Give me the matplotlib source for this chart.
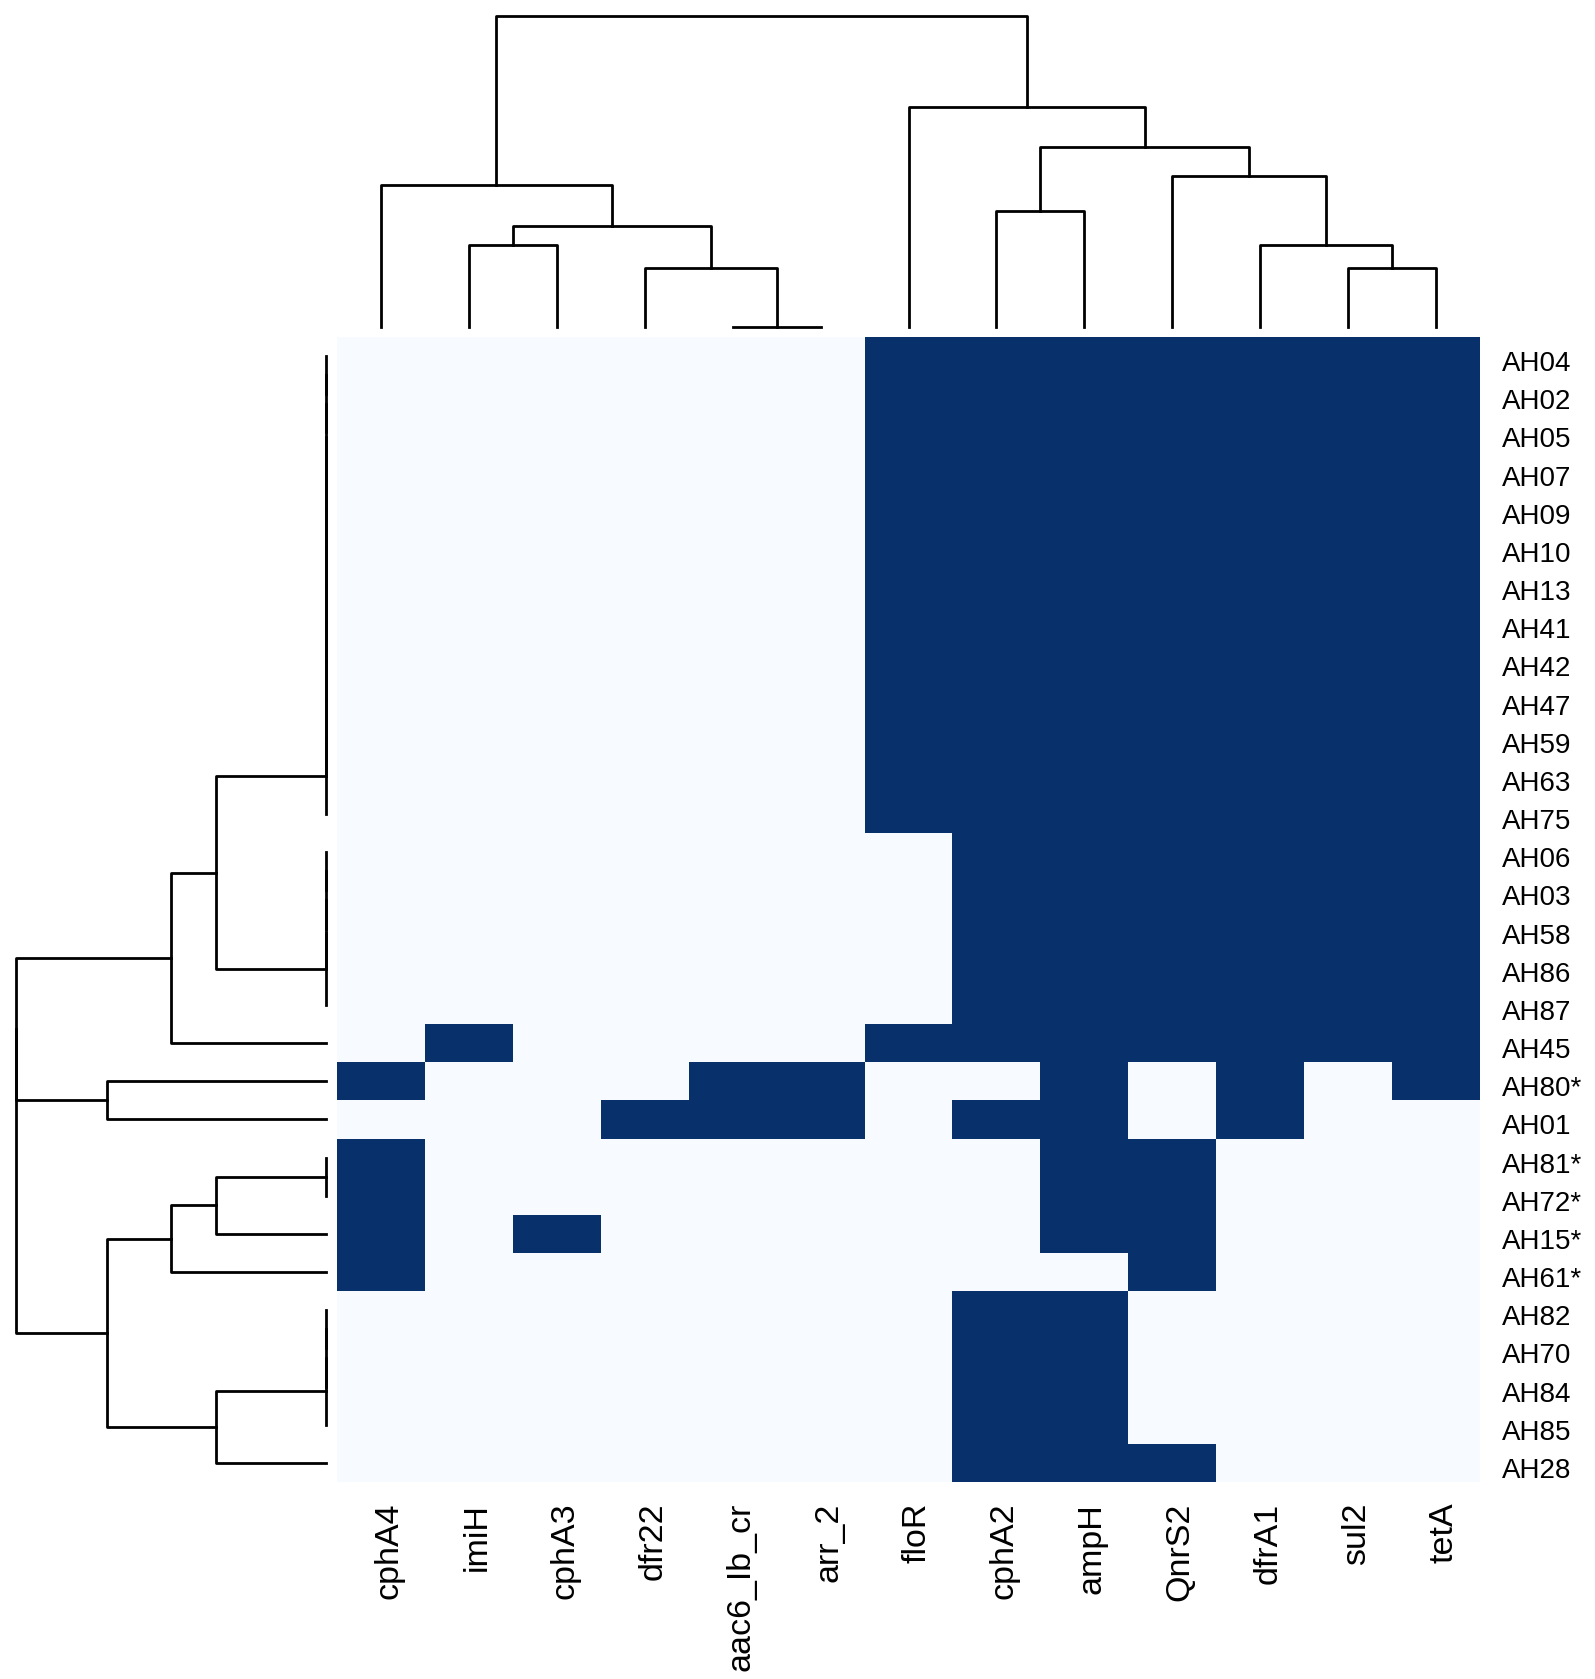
import numpy as np
import matplotlib.pyplot as plt
from matplotlib.transforms import ScaledTranslation

plt.rcParams['font.family'] = ['Liberation Sans', 'DejaVu Sans']

# genes (columns) in dendrogram order
genes = ["cphA4", "imiH", "cphA3", "dfr22", "aac6_Ib_cr", "arr_2", "floR",
         "cphA2", "ampH", "QnrS2", "dfrA1", "sul2", "tetA"]

# isolates (rows) in dendrogram order
isolates = ["AH04", "AH02", "AH05", "AH07", "AH09", "AH10", "AH13", "AH41",
            "AH42", "AH47", "AH59", "AH63", "AH75", "AH06", "AH03", "AH58",
            "AH86", "AH87", "AH45", "AH80*", "AH01", "AH81*", "AH72*",
            "AH15*", "AH61*", "AH82", "AH70", "AH84", "AH85", "AH28"]

# presence (1) / absence (0) of each gene
presence = np.array([
    [0, 0, 0, 0, 0, 0, 1, 1, 1, 1, 1, 1, 1],  # AH04
    [0, 0, 0, 0, 0, 0, 1, 1, 1, 1, 1, 1, 1],  # AH02
    [0, 0, 0, 0, 0, 0, 1, 1, 1, 1, 1, 1, 1],  # AH05
    [0, 0, 0, 0, 0, 0, 1, 1, 1, 1, 1, 1, 1],  # AH07
    [0, 0, 0, 0, 0, 0, 1, 1, 1, 1, 1, 1, 1],  # AH09
    [0, 0, 0, 0, 0, 0, 1, 1, 1, 1, 1, 1, 1],  # AH10
    [0, 0, 0, 0, 0, 0, 1, 1, 1, 1, 1, 1, 1],  # AH13
    [0, 0, 0, 0, 0, 0, 1, 1, 1, 1, 1, 1, 1],  # AH41
    [0, 0, 0, 0, 0, 0, 1, 1, 1, 1, 1, 1, 1],  # AH42
    [0, 0, 0, 0, 0, 0, 1, 1, 1, 1, 1, 1, 1],  # AH47
    [0, 0, 0, 0, 0, 0, 1, 1, 1, 1, 1, 1, 1],  # AH59
    [0, 0, 0, 0, 0, 0, 1, 1, 1, 1, 1, 1, 1],  # AH63
    [0, 0, 0, 0, 0, 0, 1, 1, 1, 1, 1, 1, 1],  # AH75
    [0, 0, 0, 0, 0, 0, 0, 1, 1, 1, 1, 1, 1],  # AH06
    [0, 0, 0, 0, 0, 0, 0, 1, 1, 1, 1, 1, 1],  # AH03
    [0, 0, 0, 0, 0, 0, 0, 1, 1, 1, 1, 1, 1],  # AH58
    [0, 0, 0, 0, 0, 0, 0, 1, 1, 1, 1, 1, 1],  # AH86
    [0, 0, 0, 0, 0, 0, 0, 1, 1, 1, 1, 1, 1],  # AH87
    [0, 1, 0, 0, 0, 0, 1, 1, 1, 1, 1, 1, 1],  # AH45
    [1, 0, 0, 0, 1, 1, 0, 0, 1, 0, 1, 0, 1],  # AH80*
    [0, 0, 0, 1, 1, 1, 0, 1, 1, 0, 1, 0, 0],  # AH01
    [1, 0, 0, 0, 0, 0, 0, 0, 1, 1, 0, 0, 0],  # AH81*
    [1, 0, 0, 0, 0, 0, 0, 0, 1, 1, 0, 0, 0],  # AH72*
    [1, 0, 1, 0, 0, 0, 0, 0, 1, 1, 0, 0, 0],  # AH15*
    [1, 0, 0, 0, 0, 0, 0, 0, 0, 1, 0, 0, 0],  # AH61*
    [0, 0, 0, 0, 0, 0, 0, 1, 1, 0, 0, 0, 0],  # AH82
    [0, 0, 0, 0, 0, 0, 0, 1, 1, 0, 0, 0, 0],  # AH70
    [0, 0, 0, 0, 0, 0, 0, 1, 1, 0, 0, 0, 0],  # AH84
    [0, 0, 0, 0, 0, 0, 0, 1, 1, 0, 0, 0, 0],  # AH85
    [0, 0, 0, 0, 0, 0, 0, 1, 1, 1, 0, 0, 0],  # AH28
])


def chain(lo, hi):
    # identical rows merged one after the other at height 0
    node = lo
    for leaf in range(lo + 1, hi + 1):
        node = (0, node, leaf)
    return node


# trees as (height, left, right), leaves are indices
col_tree = (311, (142, 0, (101, (82, 1, 2), (59, 3, (0, 4, 5)))),
            (220, 6, (180, (116, 7, 8), (151, 9, (82, 10, (59, 11, 12))))))

row_tree = (310,
            (310, (155, (110, chain(0, 12), chain(13, 17)), 18), (219, 19, 20)),
            (219, (155, (110, chain(21, 22), 23), 24), (110, chain(25, 28), 29)))


def draw_tree(ax, node, side):
    if isinstance(node, int):
        return node + 0.5, 0
    h, left, right = node
    pl, hl = draw_tree(ax, left, side)
    pr, hr = draw_tree(ax, right, side)
    pos = [pl, pl, pr, pr]
    hts = [hl, h, h, hr]
    if side == "top":
        ax.plot(pos, hts, color="black", lw=2, clip_on=False)
    else:
        ax.plot(hts, pos, color="black", lw=2, clip_on=False)
    return (pl + pr) / 2, h


W, H = 1595, 1679
fig = plt.figure(figsize=(W / 100, H / 100), dpi=100)

hx0, hx1, hy0, hy1 = 337, 1480, 337, 1482
ax_heat = fig.add_axes([hx0 / W, 1 - hy1 / H, (hx1 - hx0) / W, (hy1 - hy0) / H])
ax_heat.pcolormesh(presence, cmap="Blues", vmin=0, vmax=1)
ax_heat.set_xlim(0, len(genes))
ax_heat.set_ylim(len(isolates), 0)
for s in ax_heat.spines.values():
    s.set_visible(False)
ax_heat.set_xticks(np.arange(len(genes)) + 0.5)
ax_heat.set_xticklabels(genes, rotation=90, fontsize=24.5)
ax_heat.yaxis.tick_right()
ax_heat.set_yticks(np.arange(len(isolates)) + 0.5)
ax_heat.set_yticklabels(isolates, fontsize=20)
ax_heat.tick_params(axis="x", length=0, pad=15)
ax_heat.tick_params(axis="y", length=0, pad=15.5)
# nudge the labels a little, as R places them
shift_x = ScaledTranslation(8 / 100, 0, fig.dpi_scale_trans)
for lab in ax_heat.get_xticklabels():
    lab.set_transform(lab.get_transform() + shift_x)
shift_y = ScaledTranslation(0, -5 / 100, fig.dpi_scale_trans)
for lab in ax_heat.get_yticklabels():
    lab.set_transform(lab.get_transform() + shift_y)

# column dendrogram
ax_top = fig.add_axes([hx0 / W, 1 - 326.5 / H, (hx1 - hx0) / W, (326.5 - 15.7) / H])
draw_tree(ax_top, col_tree, "top")
ax_top.set_xlim(0, len(genes))
ax_top.set_ylim(0, 311)
ax_top.axis("off")

# row dendrogram
ax_left = fig.add_axes([16 / W, 1 - hy1 / H, (326 - 16) / W, (hy1 - hy0) / H])
draw_tree(ax_left, row_tree, "left")
ax_left.set_xlim(310, 0)
ax_left.set_ylim(len(isolates), 0)
ax_left.axis("off")

plt.savefig("out.png", dpi=100)
